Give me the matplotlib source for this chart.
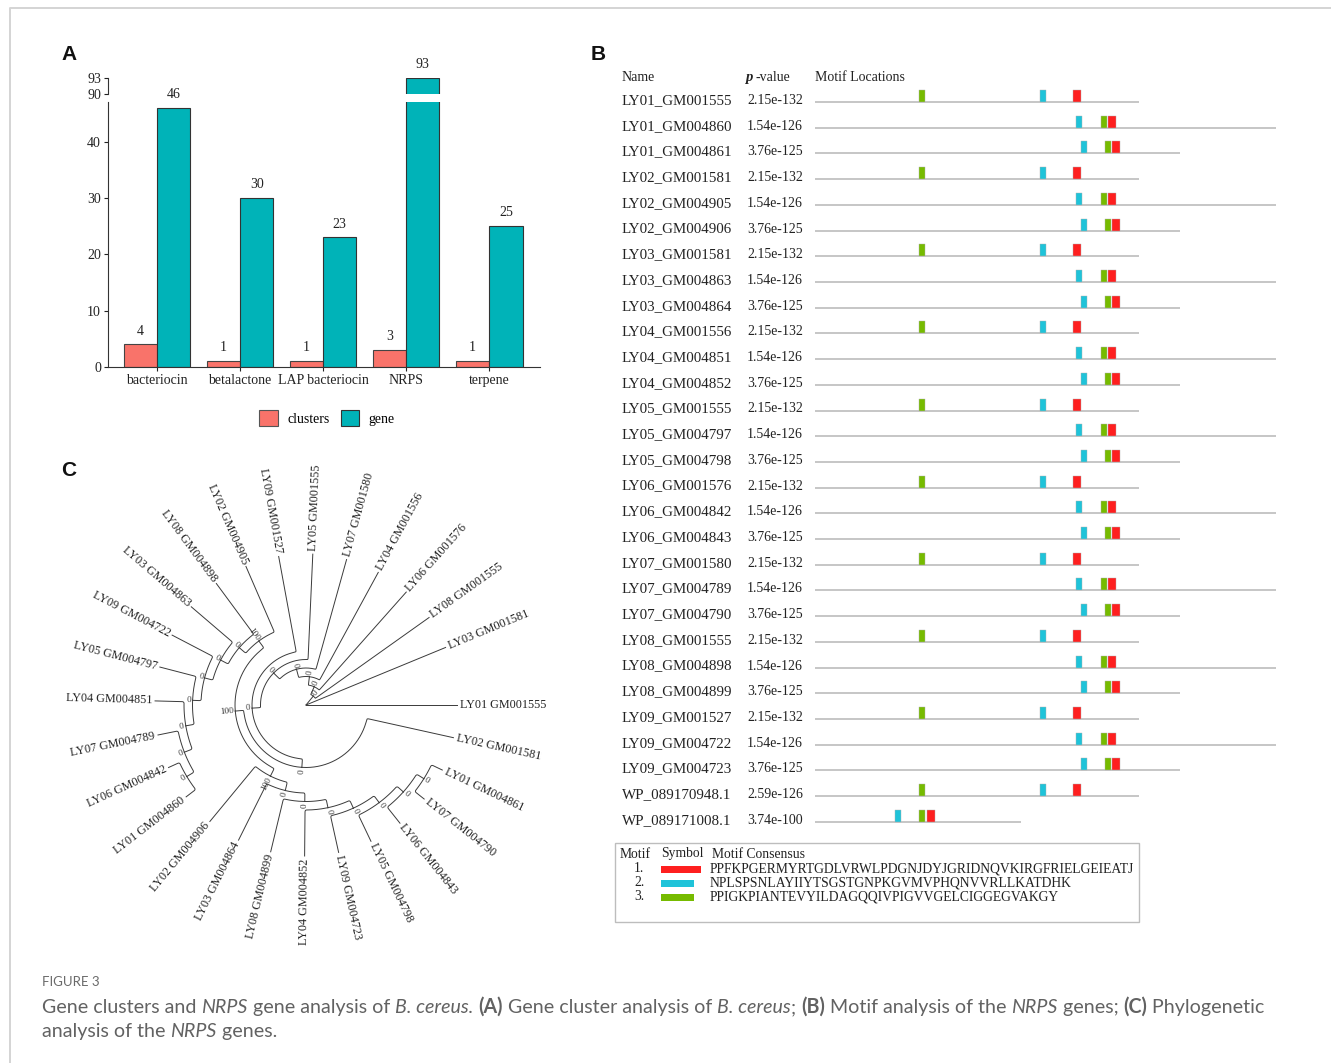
import re
import numpy as np
import matplotlib
matplotlib.use("Agg")
import matplotlib.pyplot as plt
from matplotlib.patches import Rectangle, Patch
from matplotlib.transforms import blended_transform_factory

W, H = 1331, 1063
SERIF = "Liberation Serif"
SANS = "Liberation Sans"
CAPTION_FONT = "Lato"
INK = "#222222"

# ---- A: gene cluster counts
categories = ["bacteriocin", "betalactone", "LAP bacteriocin", "NRPS", "terpene"]
clusters = [4, 1, 1, 3, 1]
genes = [46, 30, 23, 93, 25]

# ---- B: motif scan of the NRPS genes (lengths / motif starts in aa)
seq_names = [
    "LY01_GM001555", "LY01_GM004860", "LY01_GM004861",
    "LY02_GM001581", "LY02_GM004905", "LY02_GM004906",
    "LY03_GM001581", "LY03_GM004863", "LY03_GM004864",
    "LY04_GM001556", "LY04_GM004851", "LY04_GM004852",
    "LY05_GM001555", "LY05_GM004797", "LY05_GM004798",
    "LY06_GM001576", "LY06_GM004842", "LY06_GM004843",
    "LY07_GM001580", "LY07_GM004789", "LY07_GM004790",
    "LY08_GM001555", "LY08_GM004898", "LY08_GM004899",
    "LY09_GM001527", "LY09_GM004722", "LY09_GM004723",
    "WP_089170948.1", "WP_089171008.1",
]
p_values = [
    "2.15e-132", "1.54e-126", "3.76e-125",
    "2.15e-132", "1.54e-126", "3.76e-125",
    "2.15e-132", "1.54e-126", "3.76e-125",
    "2.15e-132", "1.54e-126", "3.76e-125",
    "2.15e-132", "1.54e-126", "3.76e-125",
    "2.15e-132", "1.54e-126", "3.76e-125",
    "2.15e-132", "1.54e-126", "3.76e-125",
    "2.15e-132", "1.54e-126", "3.76e-125",
    "2.15e-132", "1.54e-126", "3.76e-125",
    "2.59e-126", "3.74e-100",
]
seq_lengths = [
    2106, 2997, 2373, 2106, 2997, 2373, 2106, 2997, 2373,
    2106, 2997, 2373, 2106, 2997, 2373, 2106, 2997, 2373,
    2106, 2997, 2373, 2106, 2997, 2373, 2106, 2997, 2373,
    2106, 1339,
]
motif1_start = [
    1677, 1905, 1931, 1677, 1905, 1931, 1677, 1905, 1931,
    1677, 1905, 1931, 1677, 1905, 1931, 1677, 1905, 1931,
    1677, 1905, 1931, 1677, 1905, 1931, 1677, 1905, 1931,
    1677, 728,
]
motif2_start = [
    1463, 1697, 1729, 1463, 1697, 1729, 1463, 1697, 1729,
    1463, 1697, 1729, 1463, 1697, 1729, 1463, 1697, 1729,
    1463, 1697, 1729, 1463, 1697, 1729, 1463, 1697, 1729,
    1463, 520,
]
motif3_start = [
    676, 1859, 1885, 676, 1859, 1885, 676, 1859, 1885,
    676, 1859, 1885, 676, 1859, 1885, 676, 1859, 1885,
    676, 1859, 1885, 676, 1859, 1885, 676, 1859, 1885,
    676, 676,
]
motif_ids = ["1.", "2.", "3."]
motif_consensus = [
    "PPFKPGERMYRTGDLVRWLPDGNJDYJGRIDNQVKIRGFRIELGEIEATJ",
    "NPLSPSNLAYIIYTSGSTGNPKGVMVPHQNVVRLLKATDHK",
    "PPIGKPIANTEVYILDAGQQIVPIGVVGELCIGGEGVAKGY",
]
motif_colors = ["#fe1f1f", "#1fc3d9", "#76bb00"]

# ---- C: phylogeny of the NRPS genes (bootstrap values as node labels)
TREE = ("(LY01 GM001555,LY03 GM001581,(LY08 GM001555,(LY06 GM001576,"
        "(LY04 GM001556,(LY07 GM001580,(LY05 GM001555,(LY09 GM001527,"
        "(((LY02 GM004905,(LY08 GM004898,(LY03 GM004863,(LY09 GM004722,"
        "(LY05 GM004797,(LY04 GM004851,(LY07 GM004789,"
        "(LY06 GM004842,LY01 GM004860)0)0)0)0)0)0)0)100,"
        "(LY02 GM004906,(LY03 GM004864,(LY08 GM004899,(LY04 GM004852,"
        "(LY09 GM004723,(LY05 GM004798,(LY06 GM004843,"
        "(LY07 GM004790,LY01 GM004861)0)0)0)0)0)0)0)100"
        ")100,LY02 GM001581)0)0)0)0)0)0)0);")


fig = plt.figure(figsize=(W / 100, H / 100), dpi=100)


def px_axes(x0, y0, x1, y1):
    return fig.add_axes([x0 / W, 1 - y1 / H, (x1 - x0) / W, (y1 - y0) / H])


# full-figure overlay in pixel units for frame, letters and caption
over = px_axes(0, 0, W, H)
over.set_xlim(0, W)
over.set_ylim(H, 0)
over.axis("off")
over.plot([10, 10, W], [H, 8, 8], color="#d4d4d4", lw=1.4, clip_on=False)
for letter, x, y in [("A", 69, 55), ("B", 598, 55), ("C", 69, 470)]:
    over.text(x, y, letter, fontsize=15, weight="bold", family=SANS,
              ha="center", va="center", color="#111111")

# ================= A =================
xa = np.arange(len(categories))
bw = 0.4
c_clu, c_gene = "#f9736a", "#00b3b8"
ax_hi = px_axes(108, 78.3, 540, 94.3)
ax_lo = px_axes(108, 101.7, 540, 367)
for ax in (ax_lo, ax_hi):
    ax.bar(xa - bw / 2, clusters, bw, color=c_clu, edgecolor="#444444", lw=0.8)
    ax.bar(xa + bw / 2, genes, bw, color=c_gene, edgecolor="#333333", lw=0.8)
    ax.set_xlim(-0.59, 4.61)
    for s in ("top", "right"):
        ax.spines[s].set_visible(False)
    ax.spines["left"].set_color("#333333")
    ax.spines["bottom"].set_color("#333333")
    ax.tick_params(labelsize=10, colors=INK, length=3, pad=2)
ax_lo.set_ylim(0, 47.1)
ax_lo.set_yticks([0, 10, 20, 30, 40])
ax_lo.set_xticks(xa)
ax_lo.set_xticklabels(categories, family=SERIF, fontsize=10, color=INK)
ax_lo.set_yticklabels(["0", "10", "20", "30", "40"], family=SERIF, fontsize=10)
ax_hi.set_ylim(90, 93)
ax_hi.set_yticks([90, 93])
ax_hi.set_yticklabels(["90", "93"], family=SERIF, fontsize=10)
ax_hi.spines["bottom"].set_visible(False)
ax_hi.set_xticks([])

for xs, vals in ((xa - bw / 2, clusters), (xa + bw / 2, genes)):
    for xi, v in zip(xs, vals):
        ax = ax_hi if v >= 90 else ax_lo
        ax.annotate(str(v), (xi, v), xytext=(0, 5), textcoords="offset points",
                    ha="center", va="bottom", fontsize=10, family=SERIF,
                    color=INK, annotation_clip=False)

fig.legend(handles=[Patch(facecolor=c_clu, edgecolor="#555555", lw=0.8),
                    Patch(facecolor=c_gene, edgecolor="#333333", lw=0.8)],
           labels=["clusters", "gene"], loc="center", ncol=2, frameon=False,
           bbox_to_anchor=(327 / W, 1 - 418 / H), handlelength=1.35,
           handleheight=1.45, handletextpad=0.65, columnspacing=0.8,
           prop={"family": SERIF, "size": 10})

# ================= B =================
AA_PER_PX = 6.5
ROW0, ROW_STEP = 102, 25.71
axB = px_axes(815, 60, 1290, 835)
axB.set_xlim(0, 475 * AA_PER_PX)
axB.set_ylim((835 - ROW0) / ROW_STEP, (60 - ROW0) / ROW_STEP)
axB.axis("off")
rows = np.arange(len(seq_names))
axB.hlines(rows, 0, seq_lengths, color="#c6c6c6", lw=1.4)
box_h = 12 / ROW_STEP
motif_len = [len(m) for m in motif_consensus]
for starts, mlen, col in zip((motif1_start, motif2_start, motif3_start),
                             motif_len, motif_colors):
    for r, s in zip(rows, starts):
        axB.add_patch(Rectangle((s, r - box_h), mlen, box_h, facecolor=col,
                                edgecolor="#b0b0b0", lw=0.3, zorder=3))

trB = blended_transform_factory(fig.transFigure, axB.transData)
for r, name, pv in zip(rows, seq_names, p_values):
    axB.text(622 / W, r - 0.06, name, transform=trB, fontsize=10.8,
             family=SERIF, va="center", color=INK)
    axB.text(747 / W, r - 0.06, pv, transform=trB, fontsize=10,
             family=SERIF, va="center", color=INK)
hy = (77 - ROW0) / ROW_STEP
axB.text(622 / W, hy, "Name", transform=trB, fontsize=10, family=SERIF,
         va="center", color=INK)
axB.text(745 / W, hy, "p", transform=trB, fontsize=10.5, family=SERIF,
         weight="bold", style="italic", va="center", color=INK)
axB.text(755 / W, hy, "-value", transform=trB, fontsize=10, family=SERIF,
         va="center", color=INK)
axB.text(815 / W, hy, "Motif Locations", transform=trB, fontsize=10,
         family=SERIF, va="center", color=INK)

# motif key
over.add_patch(Rectangle((615, 843), 524, 79, facecolor="none",
                         edgecolor="#bdbdbd", lw=1))
KEY_FS = 9.8
over.text(620, 854, "Motif", fontsize=KEY_FS, family=SERIF, va="center", color=INK)
over.text(661, 854, "Symbol", fontsize=KEY_FS, family=SERIF, va="center", color=INK)
over.text(712, 854, "Motif Consensus", fontsize=KEY_FS, family=SERIF,
          va="center", color=INK)
for i, (mid, cons, col, mlen) in enumerate(zip(motif_ids, motif_consensus,
                                               motif_colors, motif_len)):
    yc = 869 + i * 14
    over.text(634, yc, mid, fontsize=KEY_FS, family=SERIF, va="center", color=INK)
    over.add_patch(Rectangle((661, yc - 3.5), mlen * 0.8, 7, facecolor=col,
                             edgecolor="none"))
    over.text(710, yc, cons, fontsize=KEY_FS, family=SERIF, va="center", color=INK)


# ================= C =================
def parse_newick(s):
    pos = 0

    def node():
        nonlocal pos
        kids = []
        if s[pos] == "(":
            pos += 1
            kids.append(node())
            while s[pos] == ",":
                pos += 1
                kids.append(node())
            pos += 1
        label = re.match(r"[^,();]*", s[pos:]).group(0)
        pos += len(label)
        return {"label": label, "children": kids}

    return node()


tree = parse_newick(TREE)
n_leaves = TREE.count(",") + 1
leaf_theta = iter([0.0] + list(np.linspace(22.4, 347.5, n_leaves - 1)))
R_LEAF = 151


def layout(nd, depth):
    if not nd["children"]:
        nd["theta"] = next(leaf_theta)
        nd["r"] = R_LEAF
        return
    for c in nd["children"]:
        layout(c, depth + 1)
    nd["theta"] = np.mean([c["theta"] for c in nd["children"]])
    nd["r"] = 0.0 if depth == 0 else 3 + 8.5 * depth


layout(tree, 0)

axC = px_axes(40, 455, 590, 965)
axC.set_xlim(-266, 284)
axC.set_ylim(-260, 250)
axC.axis("off")


def xy(r, th):
    t = np.radians(th)
    return r * np.cos(t), r * np.sin(t)


def text_orient(th):
    th = th % 360
    if th < 90 or th > 270:
        return (th if th < 90 else th - 360), "left"
    return th - 180, "right"


def chaikin(pts, n_iter=3):
    # round off the elbow between the arc and the radial segment
    for _ in range(n_iter):
        q = 0.75 * pts[:-1] + 0.25 * pts[1:]
        r = 0.25 * pts[:-1] + 0.75 * pts[1:]
        mid = np.empty((2 * len(q), 2))
        mid[0::2], mid[1::2] = q, r
        pts = np.vstack([pts[:1], mid, pts[-1:]])
    return pts


def edge_path(p, c):
    n_arc = max(2, int(abs(c["theta"] - p["theta"]) / 2) + 2)
    ax_, ay_ = xy(np.full(n_arc, p["r"]), np.linspace(p["theta"], c["theta"], n_arc))
    n_rad = max(2, int((c["r"] - p["r"]) / 4) + 1)
    rx, ry = xy(np.linspace(p["r"], c["r"], n_rad), np.full(n_rad, c["theta"]))
    pts = np.column_stack([np.append(ax_, rx[1:]), np.append(ay_, ry[1:])])
    return chaikin(pts) if p["r"] > 0 else pts


def draw(nd):
    for c in nd["children"]:
        pts = edge_path(nd, c)
        axC.plot(pts[:, 0], pts[:, 1], color="#3a3a3a", lw=0.7)
        draw(c)
    if nd["children"] and nd["label"]:
        rot, ha = text_orient(nd["theta"])
        lx, ly = xy(nd["r"] + 1.5, nd["theta"])
        axC.text(lx, ly, nd["label"], fontsize=6.6, family=SERIF, color="#333333",
                 rotation=rot, ha=ha, va="center", rotation_mode="anchor")
    if not nd["children"]:
        rot, ha = text_orient(nd["theta"])
        lx, ly = xy(R_LEAF + 3, nd["theta"])
        axC.text(lx, ly, nd["label"], fontsize=8.7, family=SERIF, color=INK,
                 rotation=rot, ha=ha, va="center", rotation_mode="anchor")


draw(tree)

# ================= caption =================
renderer = fig.canvas.get_renderer()


def text_width(txt, size, style):
    kw = dict(fontsize=size, family=CAPTION_FONT)
    if style == "i":
        kw["style"] = "italic"
    if style == "b":
        kw["weight"] = "bold"
    a = over.text(0, 0, "|" + txt + "|", **kw)
    b = over.text(0, 0, "||", **kw)
    w = a.get_window_extent(renderer).width - b.get_window_extent(renderer).width
    a.remove()
    b.remove()
    return w, kw


def rich_line(x, y, pieces, size, color):
    for txt, style in pieces:
        w, kw = text_width(txt, size, style)
        over.text(x, y, txt, color=color, va="baseline", **kw)
        x += w


line1 = [("Gene clusters and ", "n"), ("NRPS", "i"), (" gene analysis of ", "n"),
         ("B. cereus.", "i"), (" ", "n"), ("(A)", "b"),
         (" Gene cluster analysis of ", "n"), ("B. cereus", "i"), ("; ", "n"),
         ("(B)", "b"), (" Motif analysis of the ", "n"), ("NRPS", "i"),
         (" genes; ", "n"), ("(C)", "b"), (" Phylogenetic", "n")]
line2 = [("analysis of the ", "n"), ("NRPS", "i"), (" genes.", "n")]

base = 12.0
w1 = sum(text_width(t, base, s)[0] for t, s in line1)
cap_size = base * 1218 / w1
over.text(42, 982, "FIGURE 3", fontsize=9.5, family=CAPTION_FONT, color="#6a6a6a",
          va="center")
rich_line(42, 1013, line1, cap_size, "#626262")
rich_line(42, 1037, line2, cap_size, "#626262")

fig.savefig("out.png", dpi=100)
